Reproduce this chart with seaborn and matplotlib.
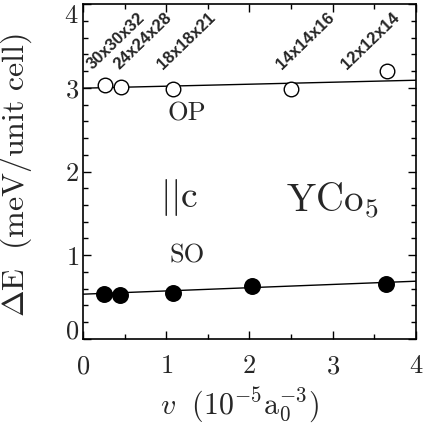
import numpy as np
import pandas as pd
import matplotlib
matplotlib.use("Agg")
import matplotlib.pyplot as plt
from matplotlib.ticker import MultipleLocator
import seaborn as sns

# Grid volumes (10^-5 a0^-3) and anisotropy energies for YCo5
v_op = [0.26, 0.46, 1.08, 2.50, 3.65]
de_op = [3.03, 3.01, 2.98, 2.98, 3.20]
v_so = [0.25, 0.45, 1.08, 2.03, 3.64]
de_so = [0.535, 0.53, 0.55, 0.63, 0.66]
mesh_labels = ["30x30x32", "24x24x28", "18x18x21", "14x14x16", "12x12x14"]

# Linear extrapolation lines
fit_v = [0.0, 4.0]
fit_op = [2.995, 3.09]
fit_so = [0.535, 0.69]

# where each k-mesh label starts (data x)
label_x = [0.12, 0.44, 0.96, 2.39, 3.17]

sns.set_theme(style="ticks")
plt.rcParams["font.family"] = ["cmr10"]
plt.rcParams["mathtext.fontset"] = "cm"
plt.rcParams["axes.formatter.use_mathtext"] = True

fig = plt.figure(figsize=(4.23, 4.24), dpi=100)
ax = fig.add_axes([0.196, 0.2005, 0.787, 0.79])

op_df = pd.DataFrame({"v": v_op, "dE": de_op})
so_df = pd.DataFrame({"v": v_so, "dE": de_so})
fit_df = pd.DataFrame({"v": fit_v, "op": fit_op, "so": fit_so})

sns.lineplot(data=fit_df, x="v", y="op", ax=ax, color="black", lw=1.0)
sns.lineplot(data=fit_df, x="v", y="so", ax=ax, color="black", lw=1.0)
sns.scatterplot(data=op_df, x="v", y="dE", ax=ax, marker="o", s=110,
                facecolor="white", edgecolor="black", linewidth=1.0, zorder=3)
sns.scatterplot(data=so_df, x="v", y="dE", ax=ax, marker="o", s=125,
                color="black", edgecolor="black", linewidth=1.0, zorder=3)

for xl, lab in zip(label_x, mesh_labels):
    ax.text(xl, 3.21, lab, ha="left", va="baseline", rotation=44,
            rotation_mode="anchor", fontsize=12, fontweight="bold",
            family=["Liberation Sans", "DejaVu Sans"])

ax.text(1.25, 2.69, "OP", fontsize=19, ha="center", va="center")
ax.text(1.25, 0.99, "SO", fontsize=19, ha="center", va="center")
ax.text(1.16, 1.69, r"$||$c", fontsize=27, ha="center", va="center")
ax.text(3.0, 1.65, r"YCo$_5$", fontsize=28, ha="center", va="center")

ax.set_xlim(0, 4)
ax.set_ylim(0, 4)
ax.set_xticks([0, 1, 2, 3, 4])
ax.set_yticks([0, 1, 2, 3, 4])
ax.xaxis.set_minor_locator(MultipleLocator(0.5))
ax.yaxis.set_minor_locator(MultipleLocator(0.2))
ax.tick_params(which="both", direction="in", top=True, right=True,
               width=1.0, color="black")
ax.tick_params(which="major", length=6, labelsize=19)
ax.tick_params(which="minor", length=3.5)
ax.tick_params(axis="x", which="major", pad=11)
ax.tick_params(axis="y", which="major", pad=3)
for sp in ax.spines.values():
    sp.set_linewidth(1.2)
    sp.set_color("black")

ax.set_xlabel(r"$v\ \ (10^{-5}\mathrm{a}_0^{-3})$", fontsize=21.5)
ax.xaxis.set_label_coords(0.47, -0.197, transform=ax.transAxes)
ax.xaxis.label.set_verticalalignment("center")
ax.set_ylabel(r"$\Delta\mathrm{E}\ \ (\mathrm{meV/unit\ cell})$", fontsize=23)
ax.yaxis.set_label_coords(-0.2, 0.49, transform=ax.transAxes)
ax.yaxis.label.set_verticalalignment("center")

fig.canvas.draw()
ylabels = ax.get_yticklabels()
ylabels[0].set_verticalalignment("baseline")
ylabels[-1].set_verticalalignment("top")

fig.savefig("out.png", dpi=100)
